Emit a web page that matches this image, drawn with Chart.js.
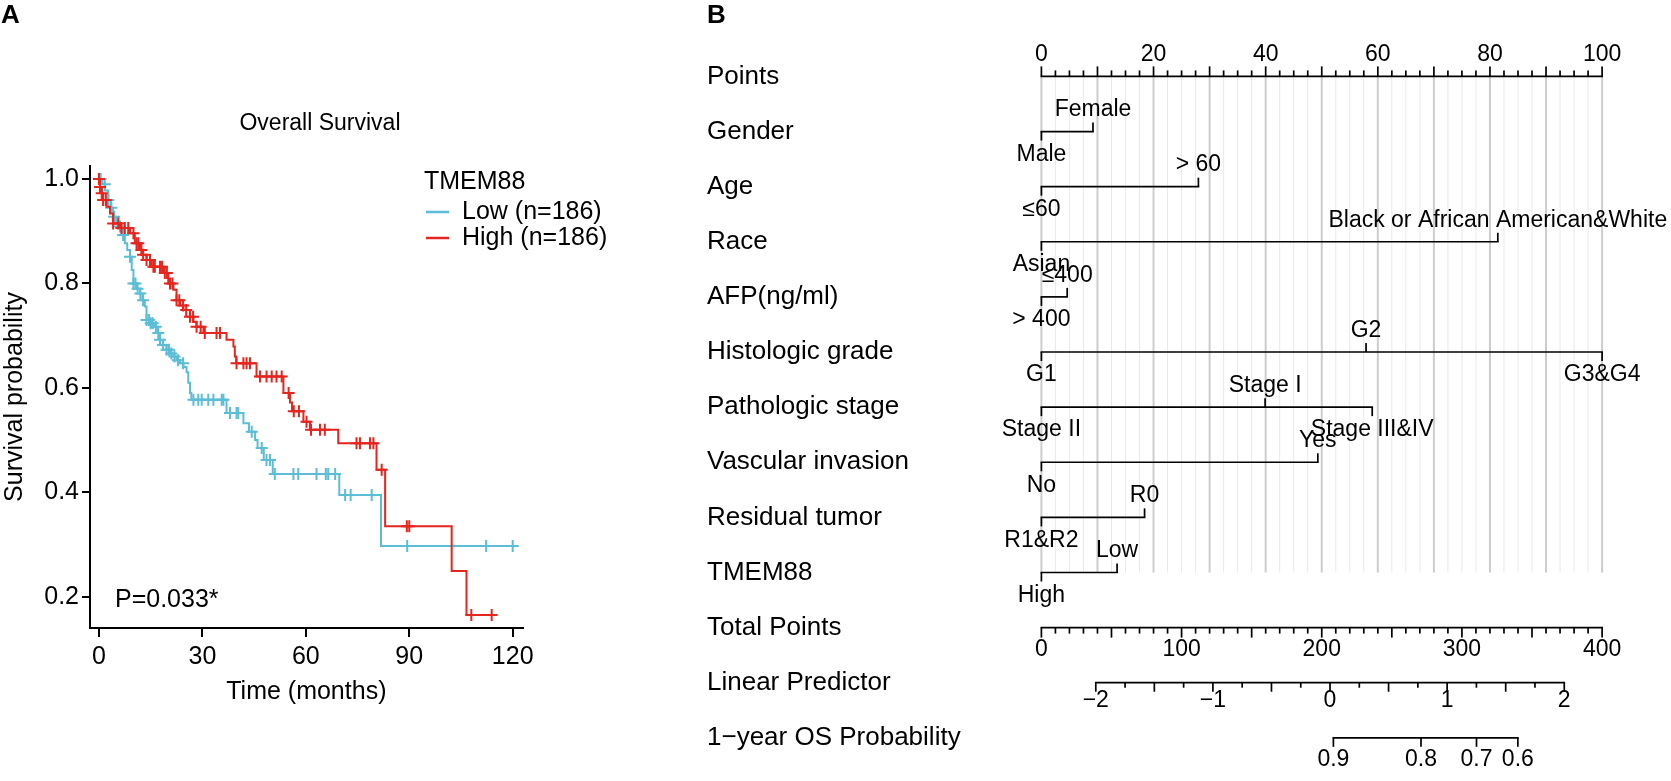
<!DOCTYPE html>
<html>
<head>
<meta charset="utf-8">
<script src="https://cdn.jsdelivr.net/npm/chart.js"></script>
<style>
  html, body { margin: 0; padding: 0; background: #fff; }
  #km { position: absolute; left: 0; top: 0; }
  #nomo { position: absolute; left: 640px; top: 0; }
</style>
</head>
<body>
<canvas id="km" width="640" height="781" style="width:640px;height:781px"></canvas>
<canvas id="nomo" width="1031" height="781" style="width:1031px;height:781px"></canvas>
<script>
// ---- Panel A: Kaplan-Meier data ----
const lowTimes = [0, 1.0, 1.8, 2.7, 3.4, 4.1, 5.0, 6.1, 6.8, 7.5, 8.2, 9.0, 9.5, 10.0, 11.0, 11.9, 12.6, 13.3, 13.8, 15.0,
  16.2, 17.0, 17.7, 18.6, 19.6, 20.6, 21.6, 22.5, 23.5, 24.5, 25.4, 25.9, 26.4, 26.8, 37.0, 41.9, 43.5, 45.3, 46.0, 47.8,
  50.4, 69.7, 81.8, 120];
const lowSurv = [1.0, 0.99, 0.978, 0.96, 0.945, 0.928, 0.918, 0.909, 0.893, 0.877, 0.864, 0.851, 0.826, 0.80, 0.79, 0.781, 0.768, 0.756, 0.73, 0.724,
  0.717, 0.705, 0.692, 0.682, 0.673, 0.666, 0.66, 0.653, 0.647, 0.64, 0.63, 0.61, 0.59, 0.577, 0.552, 0.532, 0.516, 0.50, 0.485, 0.462,
  0.435, 0.395, 0.297, 0.297];
const lowCensor = [0.5, 1.7, 2.7, 3.6, 4.4, 6.1, 7.0, 9.0, 10.0, 10.6, 11.2, 12.0, 12.8, 13.8, 14.5, 15.0, 15.6, 16.5, 17.2, 17.7,
  18.6, 19.6, 20.3, 21.0, 21.9, 22.9, 24.4, 27.4, 28.8, 29.8, 31.7, 33.2, 35.6, 36.1, 38.0, 39.9, 40.4, 44.3, 47.2, 48.6,
  49.6, 51.0, 56.4, 57.8, 63.1, 65.8, 66.5, 68.5, 71.4, 73.0, 79.1, 89.4, 112.3, 120.0];

const highTimes = [0, 0.3, 0.8, 1.2, 2.2, 3.2, 4.1, 6.1, 9.0, 10.4, 11.9, 12.8, 13.8, 15.3, 18.7, 20.1, 21.6, 22.5, 23.5, 24.5,
  26.4, 27.4, 28.3, 30.3, 37.0, 39.0, 39.4, 39.8, 45.7, 53.5, 55.4, 56.0, 59.3, 61.2, 69.4, 80.5, 83.0, 102.3, 106.6, 113.9];
const highSurv = [1.0, 0.985, 0.973, 0.96, 0.947, 0.934, 0.915, 0.906, 0.896, 0.877, 0.864, 0.855, 0.845, 0.832, 0.82, 0.80, 0.788, 0.768, 0.758, 0.749,
  0.736, 0.726, 0.717, 0.705, 0.692, 0.679, 0.66, 0.647, 0.622, 0.59, 0.572, 0.555, 0.535, 0.52, 0.494, 0.443, 0.335, 0.249, 0.165, 0.165];
const highCensor = [0.0, 0.3, 0.8, 1.2, 2.0, 4.1, 5.6, 6.5, 7.5, 8.5, 10.0, 10.9, 11.4, 12.3, 12.8, 13.8, 14.8, 15.8, 16.2, 17.7,
  18.3, 19.1, 19.7, 20.6, 21.3, 22.5, 23.3, 24.4, 25.3, 26.4, 27.3, 28.3, 29.5, 30.7, 34.1, 35.1, 39.9, 41.9, 42.8, 43.8,
  46.7, 48.6, 50.1, 51.5, 53.0, 55.0, 56.5, 58.0, 60.2, 61.5, 64.1, 65.5, 74.7, 75.7, 78.6, 79.6, 82.0, 89.3, 90.0, 108.0, 113.9];

const timeTicks = [0, 30, 60, 90, 120];
const survTicks = [0.2, 0.4, 0.6, 0.8, 1.0];
const groupNames = ['Low (n=186)', 'High (n=186)'];
const legendTitle = 'TMEM88';
const pValueText = 'P=0.033*';

// ---- Panel B: nomogram data ----
const rowNames = ['Points', 'Gender', 'Age', 'Race', 'AFP(ng/ml)', 'Histologic grade', 'Pathologic stage',
  'Vascular invasion', 'Residual tumor', 'TMEM88', 'Total Points', 'Linear Predictor', '1\u2212year OS Probability'];
const genderLevels = ['Male', 'Female'];            const genderPoints = [0, 9.2];
const ageLevels = ['\u226460', '> 60'];              const agePoints = [0, 28];
const raceLevels = ['Asian', 'Black or African American&White']; const racePoints = [0, 81.4];
const afpLevels = ['> 400', '\u2264400'];            const afpPoints = [0, 4.6];
const gradeLevels = ['G1', 'G2', 'G3&G4'];           const gradePoints = [0, 57.9, 100];
const stageLevels = ['Stage II', 'Stage I', 'Stage III&IV']; const stagePoints = [0, 39.9, 59];
const vascularLevels = ['No', 'Yes'];                const vascularPoints = [0, 49.3];
const residualLevels = ['R1&R2', 'R0'];              const residualPoints = [0, 18.4];
const tmemLevels = ['High', 'Low'];                  const tmemPoints = [0, 13.5];
const pointsTicks = [0, 20, 40, 60, 80, 100];
const totalTicks = [0, 100, 200, 300, 400];
const lpTicks = [-2, -1, 0, 1, 2];
const lpZeroTotal = 205.9, lpUnitTotal = 83.55;   // where the linear predictor sits on the total points scale
const probTicks = [0.9, 0.8, 0.7, 0.6];
const probTotals = [208.3, 270.8, 310.4, 339.9];

const cyan = '#5bbdd6';
const red = '#e5261f';
const FONT = '"Liberation Sans", Arial, Helvetica, sans-serif';
Chart.defaults.font.family = FONT;
Chart.defaults.color = '#000';

function survAt(times, surv, t) {
  let v = surv[0];
  for (let i = 0; i < times.length; i++) if (times[i] <= t) v = surv[i];
  return v;
}
function curve(times, surv) { return times.map((t, i) => ({ x: t, y: surv[i] })); }
function marks(times, surv, cens) { return cens.map(t => ({ x: t, y: survAt(times, surv, t) })); }

// text bits of panel A that are not axes
const kmText = {
  id: 'kmText',
  afterDraw(chart) {
    const c = chart.ctx;
    c.save();
    c.fillStyle = '#000';
    c.textBaseline = 'middle';
    c.font = 'bold 26px ' + FONT;
    c.textAlign = 'left';
    c.fillText('A', 1, 16);
    c.font = '23px ' + FONT;
    c.textAlign = 'center';
    c.fillText('Overall Survival', chart.width / 2, 124);
    c.font = '25px ' + FONT;
    c.textAlign = 'left';
    c.fillText(legendTitle, 424, 182);
    [cyan, red].forEach((col, i) => {
      const y = 212 + i * 26;
      c.strokeStyle = col;
      c.lineWidth = 2.5;
      c.beginPath(); c.moveTo(426, y); c.lineTo(449, y); c.stroke();
      c.fillText(groupNames[i], 462, y);
    });
    c.fillText(pValueText, 115, 600);
    c.restore();
  }
};

new Chart(document.getElementById('km'), {
  type: 'scatter',
  data: {
    datasets: [
      { data: marks(highTimes, highSurv, highCensor), borderColor: red, backgroundColor: red, pointStyle: 'cross', pointRadius: 6, borderWidth: 2 },
      { data: curve(highTimes, highSurv), showLine: true, stepped: true, borderColor: red, borderWidth: 2, pointRadius: 0 },
      { data: marks(lowTimes, lowSurv, lowCensor), borderColor: cyan, backgroundColor: cyan, pointStyle: 'cross', pointRadius: 6, borderWidth: 2 },
      { data: curve(lowTimes, lowSurv), showLine: true, stepped: true, borderColor: cyan, borderWidth: 2, pointRadius: 0 }
    ]
  },
  options: {
    responsive: false,
    animation: false,
    clip: false,
    layout: { padding: { left: 0, right: 117.3, top: 166, bottom: 74 } },
    plugins: { legend: { display: false }, tooltip: { enabled: false } },
    scales: {
      x: {
        type: 'linear', min: -2.6, max: 122.9,
        afterBuildTicks: s => { s.ticks = timeTicks.map(v => ({ value: v })); },
        afterFit: s => { s.height = 79; },
        grid: { drawOnChartArea: false, drawTicks: true, tickLength: 9, color: '#000', lineWidth: 2 },
        border: { display: true, color: '#000', width: 2 },
        ticks: { font: { size: 25 }, color: '#000', padding: 5, maxRotation: 0 },
        title: { display: true, text: 'Time (months)', font: { size: 25 }, color: '#000', padding: 0 }
      },
      y: {
        type: 'linear', min: 0.14, max: 1.025,
        afterBuildTicks: s => { s.ticks = survTicks.map(v => ({ value: v })); },
        afterFit: s => { s.width = 90; },
        grid: { drawOnChartArea: false, drawTicks: true, tickLength: 8, color: '#000', lineWidth: 2 },
        border: { display: true, color: '#000', width: 2 },
        ticks: { font: { size: 25 }, color: '#000', padding: 3, callback: v => v.toFixed(1) },
        title: { display: true, text: 'Survival probability', font: { size: 25 }, color: '#000', padding: 0 }
      }
    }
  },
  plugins: [kmText]
});

// ---- Panel B: nomogram ----
const variables = [
  [genderLevels, genderPoints], [ageLevels, agePoints], [raceLevels, racePoints], [afpLevels, afpPoints],
  [gradeLevels, gradePoints], [stageLevels, stagePoints], [vascularLevels, vascularPoints],
  [residualLevels, residualPoints], [tmemLevels, tmemPoints]
];
const lpPts = v => (lpZeroTotal + v * lpUnitTotal) / 4;

const segs = [];
segs.push([0, 100, 0]);
variables.forEach((v, i) => segs.push([Math.min(...v[1]), Math.max(...v[1]), i + 1]));
segs.push([0, 100, 10]);
segs.push([lpPts(lpTicks[0]), lpPts(lpTicks[lpTicks.length - 1]), 11]);
segs.push([probTotals[0] / 4, probTotals[probTotals.length - 1] / 4, 12]);

const nomoDraw = {
  id: 'nomoDraw',
  beforeDatasetsDraw(chart) {
    const c = chart.ctx, xs = chart.scales.x, ys = chart.scales.y;
    const y0 = ys.getPixelForValue(0), y1 = ys.getPixelForValue(9);
    c.save();
    for (let p = 0; p <= 100; p += 2.5) {
      const x = xs.getPixelForValue(p);
      const major = p % 10 === 0;
      c.strokeStyle = major ? '#cdcdcd' : '#e9e9e9';
      c.lineWidth = major ? 2 : 1;
      c.beginPath(); c.moveTo(x, y0); c.lineTo(x, y1); c.stroke();
    }
    c.restore();
  },
  afterDatasetsDraw(chart) {
    const c = chart.ctx, xs = chart.scales.x, ys = chart.scales.y;
    const X = p => xs.getPixelForValue(p), Y = r => ys.getPixelForValue(r);
    c.save();
    c.strokeStyle = '#000';
    c.fillStyle = '#000';
    c.lineWidth = 1.7;
    const tick = (x, y, len) => { c.beginPath(); c.moveTo(x, y); c.lineTo(x, y + len); c.stroke(); };
    c.font = '23px ' + FONT;
    c.textAlign = 'center';
    c.textBaseline = 'middle';

    // Points axis
    let y = Y(0);
    for (let p = 0; p <= 100; p += 2.5) tick(X(p), y, p % 10 === 0 ? -10 : -6);
    pointsTicks.forEach(p => c.fillText(String(p), X(p), y - 22));

    // variables
    variables.forEach((v, i) => {
      const yy = Y(i + 1);
      v[1].forEach((p, j) => {
        const up = j % 2 === 1;
        tick(X(p), yy, up ? -9 : 9);
        c.fillText(v[0][j], X(p), yy + (up ? -21.5 : 23));
      });
    });

    // Total points
    y = Y(10);
    for (let t = 0; t <= 400; t += 10) tick(X(t / 4), y, t % 50 === 0 ? 10 : 6);
    totalTicks.forEach(t => c.fillText(String(t), X(t / 4), y + 22));

    // Linear predictor
    y = Y(11);
    for (let v = lpTicks[0]; v <= lpTicks[lpTicks.length - 1] + 1e-9; v += 0.25) {
      const half = Math.abs(v * 2 - Math.round(v * 2)) < 1e-6;
      tick(X(lpPts(v)), y, half ? 9 : 5);
    }
    lpTicks.forEach(v => c.fillText(v < 0 ? '\u2212' + Math.abs(v) : String(v), X(lpPts(v)), y + 18));

    // 1-year probability
    y = Y(12);
    probTicks.forEach((p, i) => {
      tick(X(probTotals[i] / 4), y, 9);
      c.fillText(p.toFixed(1), X(probTotals[i] / 4), y + 22);
    });

    c.font = 'bold 26px ' + FONT;
    c.textAlign = 'left';
    c.fillText('B', 67, 16);
    c.restore();
  }
};

new Chart(document.getElementById('nomo'), {
  type: 'scatter',
  data: {
    datasets: segs.map(s => ({
      data: [{ x: s[0], y: s[2] }, { x: s[1], y: s[2] }],
      showLine: true, borderColor: '#000', borderWidth: 1.7, pointRadius: 0, borderCapStyle: 'square'
    }))
  },
  options: {
    responsive: false,
    animation: false,
    clip: false,
    layout: { padding: { left: 67, right: 68.9, top: 21.3, bottom: 3.7 } },
    plugins: { legend: { display: false }, tooltip: { enabled: false } },
    scales: {
      x: { type: 'linear', min: 0, max: 100, display: false },
      y: {
        type: 'linear', min: -1, max: 12.5, reverse: true,
        afterBuildTicks: s => { s.ticks = rowNames.map((_, i) => ({ value: i })); },
        afterFit: s => { s.width = 334.4; },
        grid: { display: false },
        border: { display: false },
        ticks: { autoSkip: false, crossAlign: 'far', padding: 0, font: { size: 26 }, color: '#000',
                 callback: v => rowNames[v] }
      }
    }
  },
  plugins: [nomoDraw]
});
</script>
</body>
</html>
